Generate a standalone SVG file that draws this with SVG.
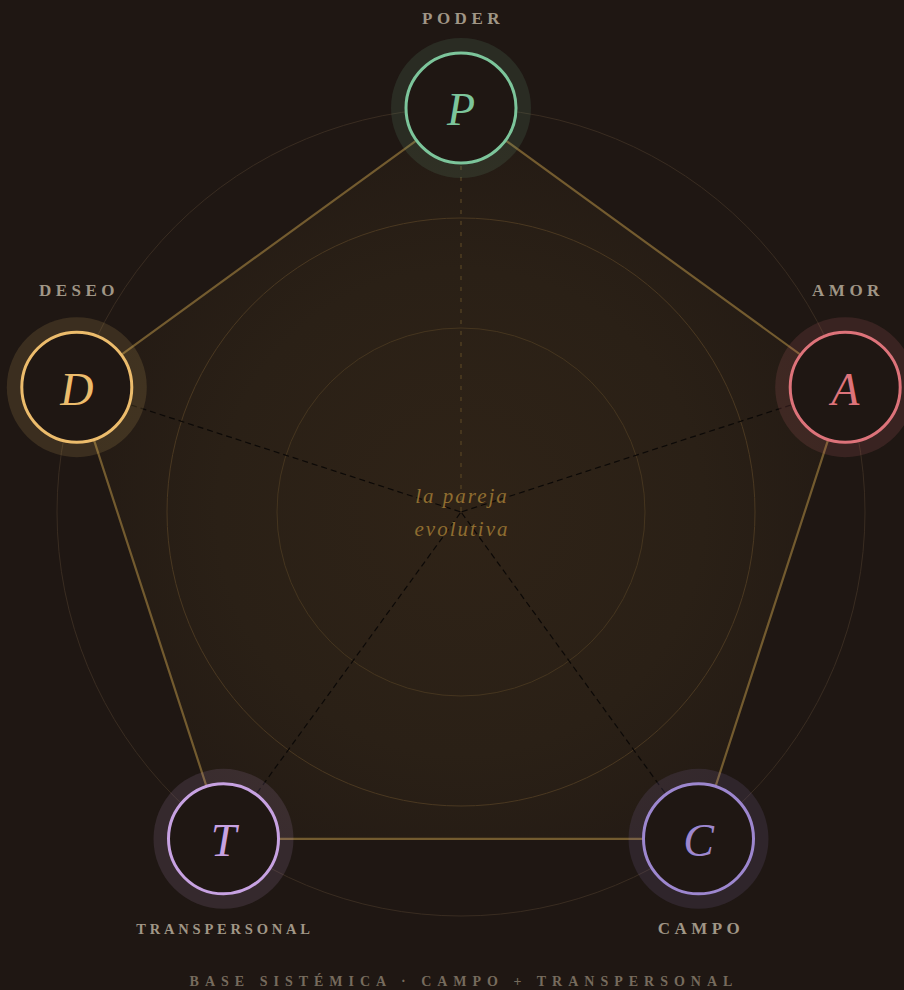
<svg xmlns="http://www.w3.org/2000/svg" width="904" height="990" viewBox="0 0 904 990">
<defs>
<radialGradient id="glow" cx="461" cy="512" r="404" gradientUnits="userSpaceOnUse">
<stop offset="0" stop-color="#2f2317"/>
<stop offset="0.6" stop-color="#2a2016"/>
<stop offset="1" stop-color="#231a14"/>
</radialGradient>
<style>
.ring{fill:none;stroke-width:1}
.edge{stroke:#735b2f;stroke-width:2.2;fill:none}
.spoke{stroke:#0c0907;stroke-width:1.2;stroke-dasharray:6 4;fill:none}
.lbl{font-family:"Liberation Serif",serif;font-weight:bold;fill:#a09686;text-anchor:middle}
.ltr{font-family:"Liberation Serif",serif;font-style:italic;font-size:46px;text-anchor:middle}
.core{fill:#1f1713;stroke-width:3}
</style>
</defs>
<rect width="904" height="990" fill="#1f1713"/>
<polygon points="461,108 845.2,387.2 698.5,838.8 223.5,838.8 76.8,387.2" fill="url(#glow)"/>
<g id="rings">
<circle class="ring" cx="461" cy="512" r="404" stroke="#392c21"/>
<circle class="ring" cx="461" cy="512" r="294" stroke="#4a3821"/>
<circle class="ring" cx="461" cy="512" r="184" stroke="#45351f"/>
</g>
<g id="connectors">
<polygon class="edge" points="461,108 845.2,387.2 698.5,838.8 223.5,838.8 76.8,387.2"/>
<line x1="461" y1="166" x2="461" y2="512" stroke="#4f3e22" stroke-width="1.5" stroke-dasharray="4 7"/>
<line class="spoke" x1="131" y1="405" x2="461" y2="512"/>
<line class="spoke" x1="791" y1="405" x2="461" y2="512"/>
<line class="spoke" x1="257" y1="793" x2="461" y2="512"/>
<line class="spoke" x1="665" y1="793" x2="461" y2="512"/>
</g>
<g id="node-P">
<circle cx="461" cy="108" r="70" fill="#7cc59b" fill-opacity="0.12"/>
<circle class="core" cx="461" cy="108" r="55" stroke="#7cc59b"/>
<text class="ltr" x="461" y="125" fill="#7cc59b">P</text>
<text class="lbl" x="463" y="24" font-size="17" letter-spacing="4.5">PODER</text>
</g>
<g id="node-A">
<circle cx="845.2" cy="387.2" r="70" fill="#dd737a" fill-opacity="0.14"/>
<circle class="core" cx="845.2" cy="387.2" r="55" stroke="#dd737a"/>
<text class="ltr" x="845.2" y="404.5" fill="#dd737a">A</text>
<text class="lbl" x="848" y="296" font-size="17" letter-spacing="4.5">AMOR</text>
</g>
<g id="node-C">
<circle cx="698.5" cy="838.8" r="70" fill="#9d87cf" fill-opacity="0.13"/>
<circle class="core" cx="698.5" cy="838.8" r="55" stroke="#9d87cf"/>
<text class="ltr" x="698.5" y="856" fill="#9d87cf">C</text>
<text class="lbl" x="701" y="934" font-size="17" letter-spacing="4.5">CAMPO</text>
</g>
<g id="node-T">
<circle cx="223.5" cy="838.8" r="70" fill="#c7a2e2" fill-opacity="0.13"/>
<circle class="core" cx="223.5" cy="838.8" r="55" stroke="#c7a2e2"/>
<text class="ltr" x="223.5" y="856" fill="#c7a2e2">T</text>
<text class="lbl" x="225" y="934" font-size="14.5" letter-spacing="3.8">TRANSPERSONAL</text>
</g>
<g id="node-D">
<circle cx="76.8" cy="387.2" r="70" fill="#ecbc6c" fill-opacity="0.14"/>
<circle class="core" cx="76.8" cy="387.2" r="55" stroke="#ecbc6c"/>
<text class="ltr" x="76.8" y="404.5" fill="#ecbc6c">D</text>
<text class="lbl" x="79" y="296" font-size="17" letter-spacing="4.5">DESEO</text>
</g>
<g id="center-label" font-family="'Liberation Serif',serif" font-style="italic" font-size="21" fill="#8f6d30" text-anchor="middle" letter-spacing="2">
<text x="462" y="503">la pareja</text>
<text x="462" y="536">evolutiva</text>
</g>
<text x="464" y="986" font-family="'Liberation Serif',serif" font-weight="bold" font-size="14" fill="#766b5d" text-anchor="middle" letter-spacing="6">BASE SISTÉMICA · CAMPO + TRANSPERSONAL</text>
</svg>
